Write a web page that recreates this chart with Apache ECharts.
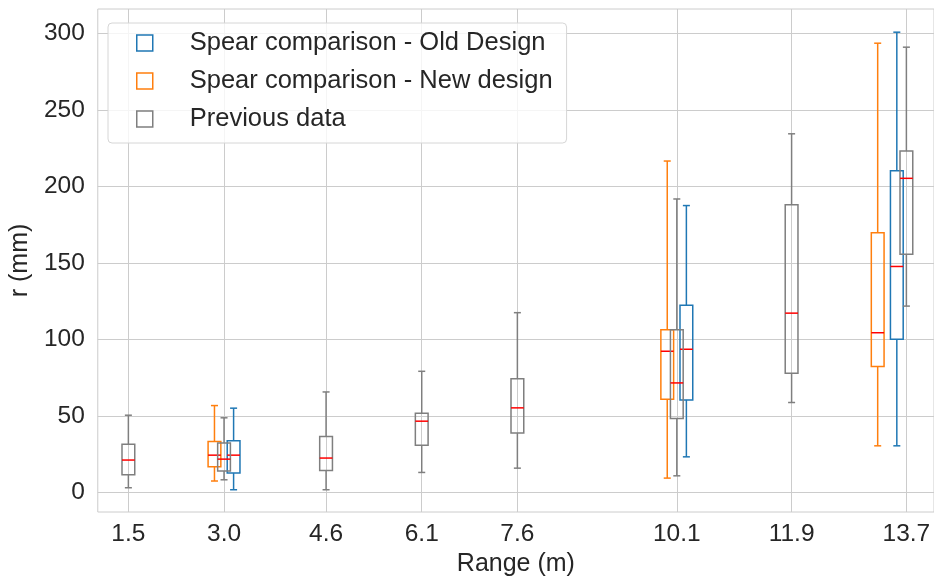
<!DOCTYPE html>
<html>
<head>
<meta charset="utf-8">
<script src="https://cdn.jsdelivr.net/npm/echarts@6/dist/echarts.min.js"></script>
<style>
html,body{margin:0;padding:0;background:#fff;}
#chart{width:934px;height:582px;}
</style>
</head>
<body>
<div id="chart"></div>
<script>
// Tick labels on the x axis (range, m) and y axis (r, mm)
const xTicks = [1.5, 3.0, 4.6, 6.1, 7.6, 10.1, 11.9, 13.7];
const yTicks = [0, 50, 100, 150, 200, 250, 300];

// Series names
const seriesNames = ['Spear comparison - Old Design', 'Spear comparison - New design', 'Previous data'];

// Spear comparison - Old Design: x position, [min, q1, median, q3, max]
const oldX = [3.15, 10.25, 13.55];
const oldStats = [
  [1.7, 12.6, 24.3, 33.7, 55.0],
  [23.2, 60.4, 93.5, 122.2, 187.4],
  [30.4, 100.0, 147.6, 210.2, 300.7]
];

// Spear comparison - New design
const newX = [2.85, 9.95, 13.25];
const newStats = [
  [7.4, 16.7, 24.3, 33.3, 56.7],
  [9.3, 60.8, 92.2, 106.3, 216.5],
  [30.4, 82.2, 104.3, 169.6, 293.5]
];

// Previous data
const prevX = [1.5, 3.0, 4.6, 6.1, 7.6, 10.1, 11.9, 13.7];
const prevStats = [
  [3.0, 11.5, 21.1, 31.5, 50.4],
  [8.2, 13.9, 21.7, 32.3, 48.7],
  [1.7, 14.3, 22.4, 36.5, 65.6],
  [13.0, 30.7, 46.5, 51.7, 79.1],
  [15.8, 38.7, 55.2, 74.3, 117.4],
  [10.8, 48.3, 71.5, 106.3, 191.7],
  [58.7, 77.8, 117.1, 188.0, 234.3],
  [121.7, 155.6, 205.2, 223.0, 290.9]
];

const colors = ['#1f77b4', '#ff7f0e', '#7f7f7f'];
const medianColor = '#ff0000';
const textColor = '#262626';
const gridColor = '#cccccc';
const fontFamily = '"Liberation Sans", Arial, sans-serif';

function build(xs, stats) {
  return xs.map((x, i) => [x].concat(stats[i]));
}

function boxRenderer(color) {
  return function (params, api) {
    const x = api.value(0);
    const lo = api.coord([x, api.value(1)]);
    const q1 = api.coord([x, api.value(2)]);
    const md = api.coord([x, api.value(3)]);
    const q3 = api.coord([x, api.value(4)]);
    const hi = api.coord([x, api.value(5)]);
    const bw = api.size([0.2, 0])[0];
    const cw = api.size([0.11, 0])[0];
    const cx = lo[0];
    const ls = { stroke: color, lineWidth: 1.5, fill: null };
    return {
      type: 'group',
      children: [
        { type: 'line', shape: { x1: cx, y1: q3[1], x2: cx, y2: hi[1] }, style: ls },
        { type: 'line', shape: { x1: cx, y1: q1[1], x2: cx, y2: lo[1] }, style: ls },
        { type: 'line', shape: { x1: cx - cw / 2, y1: hi[1], x2: cx + cw / 2, y2: hi[1] }, style: ls },
        { type: 'line', shape: { x1: cx - cw / 2, y1: lo[1], x2: cx + cw / 2, y2: lo[1] }, style: ls },
        { type: 'rect', shape: { x: cx - bw / 2, y: q3[1], width: bw, height: q1[1] - q3[1] },
          style: { stroke: color, lineWidth: 1.5, fill: 'none' } },
        { type: 'line', shape: { x1: cx - bw / 2, y1: md[1], x2: cx + bw / 2, y2: md[1] },
          style: { stroke: medianColor, lineWidth: 1.5 } }
      ]
    };
  };
}

const allData = [build(oldX, oldStats), build(newX, newStats), build(prevX, prevStats)];

const chart = echarts.init(document.getElementById('chart'));
chart.setOption({
  animation: false,
  backgroundColor: '#ffffff',
  textStyle: { fontFamily: fontFamily, color: textColor },
  grid: {
    left: 96, top: 9, right: -1, bottom: 69,
    show: true, borderColor: gridColor, borderWidth: 1, backgroundColor: 'transparent'
  },
  legend: {
    orient: 'vertical',
    left: 108, top: 23,
    padding: [7, 14, 11, 28],
    itemWidth: 16, itemHeight: 16, itemGap: 12,
    backgroundColor: 'rgba(255,255,255,0.8)',
    borderColor: '#d6d6d6', borderWidth: 1, borderRadius: 4,
    formatter: function (name) { return '{t|' + name + '}'; },
    textStyle: {
      color: textColor, fontFamily: fontFamily, fontSize: 25.5,
      rich: { t: { fontSize: 25.5, lineHeight: 26, padding: [0, 0, 0, 32], color: textColor, fontFamily: fontFamily } }
    },
    data: seriesNames.map((n, i) => ({
      name: n, icon: 'rect',
      itemStyle: { color: '#ffffff', borderColor: colors[i], borderWidth: 1.5 }
    }))
  },
  xAxis: {
    type: 'value',
    min: 1.0202, max: 14.133,
    name: 'Range (m)', nameLocation: 'middle', nameGap: 40,
    nameTextStyle: { fontSize: 25, color: textColor, fontFamily: fontFamily },
    axisLine: { show: false },
    axisTick: { show: false, customValues: xTicks },
    axisLabel: { customValues: xTicks, fontSize: 24.5, color: textColor, margin: 10,
      formatter: v => Number(v).toFixed(1) },
    splitLine: { show: true, lineStyle: { color: gridColor, width: 1 } }
  },
  yAxis: {
    type: 'value',
    min: -12.85, max: 315.85,
    name: 'r (mm)', nameLocation: 'middle', nameGap: 63,
    nameTextStyle: { fontSize: 25, color: textColor, fontFamily: fontFamily },
    axisLine: { show: false },
    axisTick: { show: false, customValues: yTicks },
    axisLabel: { customValues: yTicks, fontSize: 24.5, color: textColor, margin: 13 },
    splitLine: { show: true, lineStyle: { color: gridColor, width: 1 } }
  },
  series: seriesNames.map((n, i) => ({
    name: n,
    type: 'custom',
    renderItem: boxRenderer(colors[i]),
    itemStyle: { color: colors[i] },
    encode: { x: 0, y: [1, 2, 3, 4, 5] },
    data: allData[i],
    z: 2 + i
  }))
});
</script>
</body>
</html>
